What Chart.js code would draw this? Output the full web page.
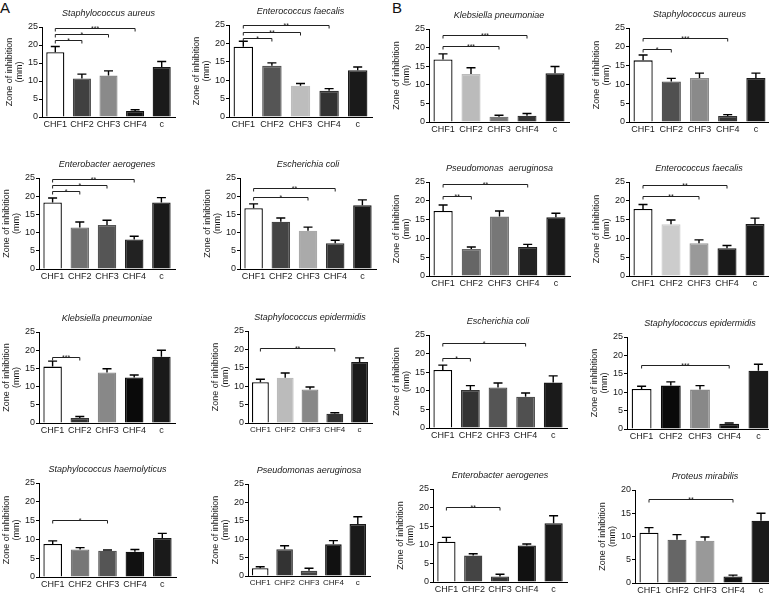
<!DOCTYPE html>
<html>
<head>
<meta charset="utf-8">
<script src="https://cdn.jsdelivr.net/npm/chart.js@4.4.1/dist/chart.umd.min.js"></script>
<style>
  body { margin: 0; width: 769px; height: 596px; overflow: hidden; background: #fff; position: relative;
         font-family: "Liberation Sans", Arial, sans-serif; }
  .panel { position: absolute; }
  .tag { position: absolute; font-size: 15px; color: #111; line-height: 1; }
</style>
</head>
<body>
<div class="tag" style="left:0px;top:0px">A</div>
<div class="tag" style="left:392px;top:0px">B</div>
<script>
const categories = ['CHF1', 'CHF2', 'CHF3', 'CHF4', 'c'];

// mean zone of inhibition (mm), error bar size, significance brackets [from, to, y, label]
const aStaphAureus = [18.0, 10.7, 11.5, 1.7, 13.9];
const aStaphAureusErr = [1.6, 1.2, 1.3, 0.3, 1.5];
const aStaphAureusSig = [[0, 1, 21.3, '*'], [0, 2, 23.1, '*'], [0, 3, 24.7, '***']];

const aEnteroFaecalis = [19.1, 13.9, 8.5, 7.1, 12.7];
const aEnteroFaecalisErr = [1.5, 0.8, 0.6, 0.6, 0.9];
const aEnteroFaecalisSig = [[0, 1, 21.6, '*'], [0, 2, 23.1, '**'], [0, 3, 24.9, '**']];

const bKlebsiella = [16.8, 12.9, 1.4, 1.7, 13.1];
const bKlebsiellaErr = [1.5, 1.7, 0.4, 0.6, 1.8];
const bKlebsiellaSig = [[0, 2, 20.3, '***'], [0, 3, 23.5, '***']];

const bStaphAureus = [16.4, 10.8, 11.7, 1.6, 11.7];
const bStaphAureusErr = [1.4, 0.8, 1.3, 0.35, 1.3];
const bStaphAureusSig = [[0, 1, 19.4, '*'], [0, 3, 22.4, '***']];

const aEnterobacter = [18.3, 11.4, 12.1, 8.1, 18.3];
const aEnterobacterErr = [1.2, 1.5, 1.3, 0.9, 1.3];
const aEnterobacterSig = [[0, 1, 21.4, '*'], [0, 2, 23.2, '*'], [0, 3, 24.8, '**']];

const aEcoli = [16.7, 13.0, 10.5, 7.1, 17.5];
const aEcoliErr = [1.2, 1.0, 1.0, 0.8, 1.5];
const aEcoliSig = [[0, 2, 19.8, '*'], [0, 3, 22.3, '**']];

const bPseudomonas = [17.3, 7.2, 15.8, 7.7, 15.6];
const bPseudomonasErr = [1.6, 0.5, 1.5, 0.7, 1.1];
const bPseudomonasSig = [[0, 1, 21.2, '**'], [0, 3, 24.5, '**']];

const bEnteroFaecalis = [17.8, 13.75, 8.7, 7.4, 13.8];
const bEnteroFaecalisErr = [1.2, 1.15, 0.9, 0.7, 1.6];
const bEnteroFaecalisSig = [[0, 2, 21.2, '**'], [0, 3, 24.3, '**']];

const aKlebsiella = [15.5, 1.4, 13.9, 12.5, 18.2];
const aKlebsiellaErr = [1.5, 0.4, 1.0, 0.7, 1.8];
const aKlebsiellaSig = [[0, 1, 18.2, '***']];

const aStaphEpi = [11.1, 12.3, 9.1, 2.5, 16.6];
const aStaphEpiErr = [0.8, 1.3, 0.7, 0.3, 1.1];
const aStaphEpiSig = [[0, 3, 20.4, '**']];

const bEcoli = [15.6, 10.2, 10.9, 8.4, 12.2];
const bEcoliErr = [1.3, 1.2, 1.2, 1.0, 1.8];
const bEcoliSig = [[0, 1, 18.7, '*'], [0, 3, 22.9, '*']];

const bStaphEpi = [10.9, 11.8, 10.7, 1.4, 15.85];
const bStaphEpiErr = [0.7, 1.0, 1.1, 0.25, 1.75];
const bStaphEpiSig = [[0, 3, 17.5, '***']];

const aStaphHaem = [8.8, 7.3, 7.0, 6.7, 10.4];
const aStaphHaemErr = [0.8, 0.5, 0.2, 0.6, 1.2];
const aStaphHaemSig = [[0, 2, 15.2, '*']];

const aPseudomonas = [2.1, 7.3, 1.4, 8.6, 14.1];
const aPseudomonasErr = [0.4, 0.9, 0.7, 1.0, 2.0];
const aPseudomonasSig = [];

const bEnterobacter = [10.8, 7.1, 1.5, 9.8, 15.8];
const bEnterobacterErr = [1.2, 0.5, 0.6, 0.4, 2.0];
const bEnterobacterSig = [[0, 2, 20.1, '**']];

const bProteus = [10.8, 9.3, 9.1, 1.4, 13.4];
const bProteusErr = [1.1, 1.1, 0.8, 0.3, 1.6];
const bProteusSig = [[0, 3, 18.0, '**']];

// box = [axis left, plot right, y of max, y of zero] in page pixels
const panels = [
  { title: 'Staphylococcus aureus', v: aStaphAureus, e: aStaphAureusErr, s: aStaphAureusSig, max: 25,
    fills: ['#fff', '#404040', '#8a8a8a', '#111', '#1a1a1a'], box: [42, 175, 27, 117] },
  { title: 'Enterococcus faecalis', v: aEnteroFaecalis, e: aEnteroFaecalisErr, s: aEnteroFaecalisSig, max: 25,
    fills: ['#fff', '#555', '#bdbdbd', '#333', '#1a1a1a'], box: [229, 372, 25, 117] },
  { title: 'Klebsiella pneumoniae', v: bKlebsiella, e: bKlebsiellaErr, s: bKlebsiellaSig, max: 25,
    fills: ['#fff', '#bbb', '#777', '#333', '#1a1a1a'], box: [429, 569, 29, 122] },
  { title: 'Staphylococcus aureus', v: bStaphAureus, e: bStaphAureusErr, s: bStaphAureusSig, max: 25,
    fills: ['#fff', '#505050', '#8a8a8a', '#333', '#1a1a1a'], box: [629, 770, 28, 122] },

  { title: 'Enterobacter aerogenes', v: aEnterobacter, e: aEnterobacterErr, s: aEnterobacterSig, max: 25,
    fills: ['#fff', '#707070', '#555', '#222', '#1a1a1a'], box: [39, 175, 178, 269] },
  { title: 'Escherichia coli', v: aEcoli, e: aEcoliErr, s: aEcoliSig, max: 25,
    fills: ['#fff', '#444', '#aaa', '#333', '#1a1a1a'], box: [240, 376, 178, 269] },
  { title: 'Pseudomonas  aeruginosa', v: bPseudomonas, e: bPseudomonasErr, s: bPseudomonasSig, max: 25,
    fills: ['#fff', '#666', '#777', '#222', '#1a1a1a'], box: [429, 570, 182, 276] },
  { title: 'Enterococcus faecalis', v: bEnteroFaecalis, e: bEnteroFaecalisErr, s: bEnteroFaecalisSig, max: 25,
    fills: ['#fff', '#ccc', '#999', '#1a1a1a', '#1a1a1a'], box: [629, 769, 182, 276] },

  { title: 'Klebsiella pneumoniae', v: aKlebsiella, e: aKlebsiellaErr, s: aKlebsiellaSig, max: 25,
    fills: ['#fff', '#333', '#888', '#0a0a0a', '#1a1a1a'], box: [39, 175, 332, 423] },
  { title: 'Staphylococcus epidermidis', v: aStaphEpi, e: aStaphEpiErr, s: aStaphEpiSig, max: 25,
    fills: ['#fff', '#bbb', '#888', '#333', '#1a1a1a'], box: [248, 372, 331, 423] },
  { title: 'Escherichia coli', v: bEcoli, e: bEcoliErr, s: bEcoliSig, max: 25,
    fills: ['#fff', '#333', '#555', '#505050', '#1a1a1a'], box: [429, 567, 335, 428] },
  { title: 'Staphylococcus epidermidis', v: bStaphEpi, e: bStaphEpiErr, s: bStaphEpiSig, max: 25,
    fills: ['#fff', '#0a0a0a', '#888', '#111', '#1a1a1a'], box: [627, 773, 337, 429] },

  { title: 'Staphylococcus haemolyticus', v: aStaphHaem, e: aStaphHaemErr, s: aStaphHaemSig, max: 25,
    fills: ['#fff', '#777', '#555', '#111', '#1a1a1a'], box: [39, 176, 483, 577] },
  { title: 'Pseudomonas aeruginosa', v: aPseudomonas, e: aPseudomonasErr, s: aPseudomonasSig, max: 25,
    fills: ['#fff', '#333', '#444', '#111', '#1a1a1a'], box: [248, 370, 484, 576] },
  { title: 'Enterobacter aerogenes', v: bEnterobacter, e: bEnterobacterErr, s: bEnterobacterSig, max: 25,
    fills: ['#fff', '#444', '#333', '#111', '#1a1a1a'], box: [433, 567, 489, 582] },
  { title: 'Proteus mirabilis', v: bProteus, e: bProteusErr, s: bProteusSig, max: 20,
    fills: ['#fff', '#666', '#999', '#111', '#1a1a1a'], box: [635, 775, 490, 583] },
];

const FONT = '"Liberation Sans", Arial, sans-serif';
const TXT = '#1a1a1a';
const YW = 37;   // y axis block width
const XH = 16;   // x axis block height
const TOP = 24;  // room above plot for title and brackets

// error bars, significance brackets and the italic title
const extras = {
  id: 'extras',
  afterDatasetsDraw(chart, args, opts) {
    const { ctx, chartArea } = chart;
    const x = chart.scales.x, y = chart.scales.y;
    const bars = chart.getDatasetMeta(0).data;
    ctx.save();
    ctx.strokeStyle = '#000';
    ctx.lineWidth = 1.4;
    opts.v.forEach((m, i) => {
      const cx = bars[i].x;
      const y0 = y.getPixelForValue(m);
      const y1 = y.getPixelForValue(m + opts.e[i]);
      ctx.beginPath();
      ctx.moveTo(cx, y0);
      ctx.lineTo(cx, y1);
      ctx.moveTo(cx - 4.5, y1);
      ctx.lineTo(cx + 4.5, y1);
      ctx.stroke();
    });
    ctx.lineWidth = 1;
    ctx.strokeStyle = '#222';
    ctx.fillStyle = '#222';
    ctx.font = '7px ' + FONT;
    ctx.textAlign = 'center';
    ctx.textBaseline = 'alphabetic';
    opts.s.forEach(([a, b, val, label]) => {
      const xa = x.getPixelForValue(a), xb = x.getPixelForValue(b);
      const yy = Math.round(y.getPixelForValue(val)) + 0.5;
      ctx.beginPath();
      ctx.moveTo(xa, yy + 3);
      ctx.lineTo(xa, yy);
      ctx.lineTo(xb, yy);
      ctx.lineTo(xb, yy + 3);
      ctx.stroke();
      ctx.fillText(label, (xa + xb) / 2, yy + 2);
    });
    ctx.fillStyle = TXT;
    ctx.font = 'italic 9px ' + FONT;
    ctx.textBaseline = 'middle';
    ctx.fillText(opts.title, (chartArea.left + chartArea.right) / 2, chartArea.top - 14);
    ctx.restore();
  }
};

panels.forEach(p => {
  const [L, R, T, B] = p.box;
  const div = document.createElement('div');
  div.className = 'panel';
  div.style.left = (L - YW) + 'px';
  div.style.top = (T - TOP) + 'px';
  div.style.width = (R - L + YW + 2) + 'px';
  div.style.height = (B - T + TOP + XH) + 'px';
  const canvas = document.createElement('canvas');
  div.appendChild(canvas);
  document.body.appendChild(div);
  const xFont = (R - L) < 130 ? 8 : 9;

  new Chart(canvas, {
    type: 'bar',
    data: {
      labels: categories,
      datasets: [{
        data: p.v,
        backgroundColor: p.fills,
        borderColor: p.fills.map((c, i) => i === 0 ? '#000' : c),
        borderWidth: 1.3,
        barPercentage: 0.68,
        categoryPercentage: 1
      }]
    },
    options: {
      responsive: true,
      maintainAspectRatio: false,
      animation: false,
      layout: { padding: { top: TOP, right: 2, left: 0, bottom: 0 } },
      plugins: {
        legend: { display: false },
        tooltip: { enabled: false },
        extras: { v: p.v, e: p.e, s: p.s, title: p.title }
      },
      scales: {
        x: {
          offset: true,
          grid: { display: false, drawTicks: false },
          border: { color: '#000', width: 1 },
          ticks: { color: TXT, font: { family: FONT, size: xFont }, padding: 2, maxRotation: 0, autoSkip: false },
          afterFit: s => { s.height = XH; }
        },
        y: {
          min: 0,
          max: p.max,
          grid: { drawOnChartArea: false, drawTicks: true, tickLength: 3, color: '#000' },
          border: { color: '#000', width: 1 },
          ticks: { stepSize: 5, color: TXT, font: { family: FONT, size: 9 }, padding: 1 },
          title: {
            display: true,
            text: ['Zone of inhibition', '(mm)'],
            color: TXT,
            font: { family: FONT, size: 9, lineHeight: 1.1 },
            padding: { top: 0, bottom: 0 }
          },
          afterFit: s => { s.width = YW; }
        }
      }
    },
    plugins: [extras]
  });
});
</script>
</body>
</html>
